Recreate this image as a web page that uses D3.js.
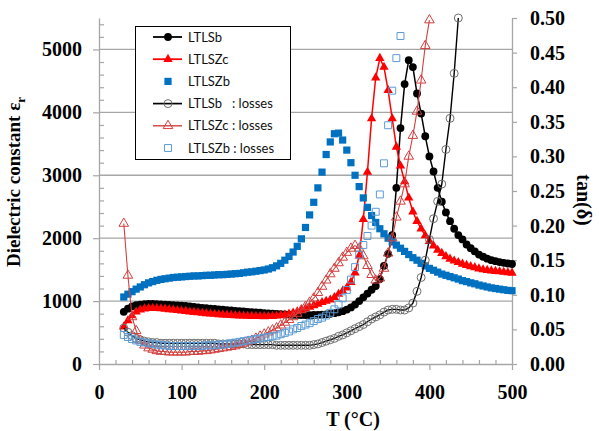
<!DOCTYPE html>
<html><head><meta charset="utf-8">
<script src="https://cdn.jsdelivr.net/npm/d3@7"></script>
<style>body{margin:0;background:#fff}</style>
</head><body><svg id="c" width="599" height="431"></svg>
<script>
// ---------------- data ----------------
const temps = [30,35,40,45,50,55,60,65,70,75,80,85,90,95,100,105,110,115,120,125,
130,135,140,145,150,155,160,165,170,175,180,185,190,195,200,205,210,215,220,225,
230,235,240,245,250,255,260,265,270,275,280,285,290,295,300,305,310,315,320,325,
330,335,340,345,350,355,360,365,370,375,380,385,390,395,400,405,410,415,420,425,
430,435,440,445,450,455,460,465,470,475,480,485,490,495,500];

const epsLTLSb = [830,880,915,935,945,952,955,955,952,948,
944,940,936,932,928,922,915,908,900,893,
887,880,874,868,862,856,850,845,840,835,
830,825,820,815,810,805,800,796,792,788,
785,782,780,779,778,778,779,781,784,790,
798,808,822,840,865,900,945,1000,1060,1120,
1180,1240,1350,1560,1750,2050,2800,3750,4450,4830,
4720,4300,3980,3620,3300,3060,2800,2580,2410,2270,
2150,2050,1980,1900,1840,1790,1740,1705,1675,1650,
1635,1620,1608,1598,1590];

const epsLTLSZc = [590,690,770,830,860,878,885,886,884,880,
874,867,860,852,845,838,830,823,816,810,
804,798,793,788,783,779,775,771,768,765,
762,760,758,757,756,757,760,765,772,782,
795,812,832,855,880,905,930,955,980,1000,
1020,1060,1110,1160,1210,1300,1450,1720,2300,3050,
3900,4550,4860,4720,4350,3900,3450,3150,2900,2640,
2420,2270,2150,2040,1950,1880,1810,1760,1710,1670,
1640,1615,1590,1570,1550,1535,1515,1500,1490,1482,
1475,1468,1460,1453,1447];

const epsLTLSZb = [1065,1110,1150,1190,1225,1260,1290,1310,1330,1345,
1355,1365,1375,1380,1385,1390,1395,1400,1400,1405,
1410,1410,1415,1420,1420,1425,1430,1435,1440,1450,
1460,1465,1475,1485,1495,1510,1530,1560,1600,1650,
1710,1780,1870,1990,2170,2370,2570,2800,3050,3330,
3530,3660,3670,3560,3400,3200,3000,2820,2640,2490,
2360,2250,2150,2070,2000,1940,1890,1840,1790,1740,
1690,1650,1600,1560,1520,1490,1460,1430,1410,1390,
1370,1350,1325,1310,1290,1275,1255,1240,1225,1210,
1200,1190,1180,1170,1165];

const tanLTLSb = [0.052,0.046,0.041,0.037,0.035,0.033,0.032,0.031,0.031,0.030,
0.030,0.030,0.030,0.030,0.030,0.030,0.030,0.030,0.030,0.030,
0.030,0.030,0.030,0.029,0.029,0.029,0.029,0.029,0.029,0.029,
0.028,0.028,0.028,0.028,0.028,0.028,0.028,0.027,0.027,0.027,
0.027,0.027,0.027,0.027,0.027,0.027,0.028,0.029,0.031,0.033,
0.035,0.037,0.040,0.042,0.045,0.048,0.051,0.054,0.057,0.061,
0.065,0.068,0.071,0.075,0.078,0.079,0.079,0.078,0.078,0.081,
0.088,0.105,0.125,0.150,0.180,0.210,0.235,0.260,0.310,0.355,
0.420,0.500];

const tanLTLSZc = [0.203,0.128,0.068,0.048,0.034,0.027,0.023,0.021,0.019,0.018,
0.018,0.017,0.017,0.017,0.017,0.017,0.018,0.018,0.018,0.019,
0.019,0.020,0.021,0.022,0.023,0.024,0.025,0.026,0.028,0.030,
0.032,0.034,0.037,0.040,0.043,0.046,0.049,0.052,0.056,0.060,
0.064,0.068,0.073,0.078,0.083,0.089,0.095,0.103,0.112,0.121,
0.130,0.138,0.146,0.154,0.161,0.167,0.171,0.167,0.156,0.142,
0.129,0.121,0.124,0.138,0.160,0.182,0.212,0.235,0.260,0.300,
0.330,0.365,0.410,0.460,0.497];

const tanLTLSZb = [0.042,0.039,0.036,0.034,0.032,0.031,0.030,0.029,0.028,0.027,
0.027,0.026,0.026,0.026,0.026,0.026,0.026,0.026,0.026,0.026,
0.027,0.027,0.027,0.028,0.028,0.029,0.030,0.031,0.032,0.033,
0.034,0.035,0.036,0.037,0.038,0.039,0.040,0.041,0.043,0.045,
0.047,0.050,0.052,0.055,0.057,0.059,0.062,0.065,0.067,0.070,
0.074,0.079,0.086,0.095,0.107,0.122,0.140,0.158,0.172,0.185,
0.200,0.220,0.245,0.290,0.345,0.395,0.442,0.474];

const tempTicks = [0,100,200,300,400,500];
const epsTicks = [0,1000,2000,3000,4000,5000];
const tanTicks = [0,0.05,0.10,0.15,0.20,0.25,0.30,0.35,0.40,0.45,0.50];
const legendLabels = ["LTLSb","LTLSZc","LTLSZb","LTLSb   : losses","LTLSZc : losses","LTLSZb : losses"];

// ---------------- chart ----------------
const svg = d3.select("#c");
const serif = "'Liberation Serif','Times New Roman',serif";
const axisColor = "#a6a6a6";
const x = d3.scaleLinear().domain([0,500]).range([99,512]);
const yL = d3.scaleLinear().domain([0,5500]).range([364,18]);
const yR = d3.scaleLinear().domain([0,0.5]).range([364,18]);

// gridlines
svg.append("g").selectAll("line").data(epsTicks.filter(d=>d>0)).join("line")
  .attr("x1",x(0)).attr("x2",x(500)).attr("y1",d=>yL(d)).attr("y2",d=>yL(d))
  .attr("stroke",axisColor).attr("stroke-width",1.3);

function styleAxis(g){
  g.selectAll(".domain").attr("stroke",axisColor).attr("stroke-width",1.3);
  g.selectAll(".tick line").attr("stroke",axisColor).attr("stroke-width",1.2);
  g.selectAll("text").attr("font-family",serif).attr("font-size",20).attr("font-weight","bold").attr("fill","#000");
}
// minor ticks
const epsMinor = d3.range(200,5500,200).filter(d=>d%1000!==0);
const tempMinor = d3.range(20,500,20).filter(d=>d%100!==0);
svg.append("g").attr("transform",`translate(${x(0)},0)`)
  .call(d3.axisLeft(yL).tickValues(epsMinor).tickSize(-5).tickFormat(""))
  .call(g=>{g.select(".domain").remove(); g.selectAll("line").attr("stroke",axisColor).attr("stroke-width",1.2);});
svg.append("g").attr("transform",`translate(0,${yL(0)})`)
  .call(d3.axisBottom(x).tickValues(tempMinor).tickSize(-4).tickFormat(""))
  .call(g=>{g.select(".domain").remove(); g.selectAll("line").attr("stroke",axisColor).attr("stroke-width",1.2);});

// main axes
svg.append("g").attr("transform",`translate(${x(0)},0)`)
  .call(d3.axisLeft(yL).tickValues(epsTicks).tickSize(6).tickSizeOuter(0).tickPadding(11).tickFormat(d3.format("d")))
  .call(styleAxis);
svg.append("g").attr("transform",`translate(0,${yL(0)})`)
  .call(d3.axisBottom(x).tickValues(tempTicks).tickSize(6).tickSizeOuter(0).tickPadding(15).tickFormat(d3.format("d")))
  .call(styleAxis);
svg.append("g").attr("transform",`translate(${x(500)},0)`)
  .call(d3.axisRight(yR).tickValues(tanTicks).tickSize(5).tickSizeOuter(0).tickPadding(13).tickFormat(d3.format(".2f")))
  .call(styleAxis);

// series
const series = [
  {label:legendLabels[0], vals:epsLTLSb, y:yL, sym:d3.symbolCircle, size:48, fill:"#000", stroke:"none", line:"#000", lw:1.5},
  {label:legendLabels[1], vals:epsLTLSZc, y:yL, sym:d3.symbolTriangle, size:38, fill:"#ff0000", stroke:"none", line:"#ff0000", lw:1.5},
  {label:legendLabels[2], vals:epsLTLSZb, y:yL, sym:d3.symbolSquare, size:52, fill:"#0070c0", stroke:"none", line:null, lw:0},
  {label:legendLabels[3], vals:tanLTLSb, y:yR, sym:d3.symbolCircle, size:50, fill:"none", stroke:"#6e6e6e", line:"#000", lw:1.4},
  {label:legendLabels[4], vals:tanLTLSZc, y:yR, sym:d3.symbolTriangle, size:40, fill:"none", stroke:"#d2403f", line:"#d2403f", lw:1.1},
  {label:legendLabels[5], vals:tanLTLSZb, y:yR, sym:d3.symbolSquare, size:48, fill:"none", stroke:"#5b9bd5", line:null, lw:0}
];

series.forEach(s=>{
  const pts = temps.map((t,i)=>[t, s.vals[i]]).filter(p=>p[1]!=null);
  const g = svg.append("g");
  if(s.line){
    g.append("path").datum(pts)
      .attr("d", d3.line().x(d=>x(d[0])).y(d=>s.y(d[1])))
      .attr("fill","none").attr("stroke",s.line).attr("stroke-width",s.lw);
  }
  g.selectAll("path.m").data(pts).join("path").attr("class","m")
    .attr("d", d3.symbol().type(s.sym).size(s.size))
    .attr("transform", d=>`translate(${x(d[0])},${s.y(d[1])})`)
    .attr("fill", s.fill).attr("stroke", s.stroke).attr("stroke-width", s.stroke==="none"?0:1);
});

// legend
const lg = svg.append("g");
lg.append("rect").attr("x",135.5).attr("y",26.5).attr("width",155).attr("height",133)
  .attr("fill","#fff").attr("stroke","#000").attr("stroke-width",1);
const rowY = d3.scalePoint().domain(legendLabels).range([37,148]);
series.forEach(s=>{
  const yy = rowY(s.label);
  if(s.line){
    lg.append("line").attr("x1",153).attr("x2",182).attr("y1",yy).attr("y2",yy)
      .attr("stroke",s.line).attr("stroke-width",s.lw+0.3);
  }
  lg.append("path").attr("d", d3.symbol().type(s.sym).size(s.size))
    .attr("transform",`translate(168,${yy})`)
    .attr("fill",s.fill).attr("stroke",s.stroke).attr("stroke-width", s.stroke==="none"?0:1);
  lg.append("text").attr("x",188).attr("y",yy).attr("dy","0.35em")
    .attr("font-family","Lato, 'Open Sans', sans-serif").attr("font-size",13)
    .attr("fill","#111").style("white-space","pre").text(s.label);
});

// titles
svg.append("text").attr("transform","translate(20,182) rotate(-90)")
  .attr("text-anchor","middle").attr("font-family",serif).attr("font-size",19).attr("font-weight","bold")
  .call(t=>{t.append("tspan").text("Dielectric constant ε"); t.append("tspan").attr("font-size",13).attr("dy",5).text("r");});
svg.append("text").attr("x",353).attr("y",426).attr("text-anchor","middle")
  .attr("font-family",serif).attr("font-size",20).attr("font-weight","bold").text("T (°C)");
svg.append("text").attr("transform","translate(577,200) rotate(90)")
  .attr("text-anchor","middle").attr("font-family",serif).attr("font-size",20).attr("font-weight","bold").text("tan(δ)");
</script>
</body></html>
